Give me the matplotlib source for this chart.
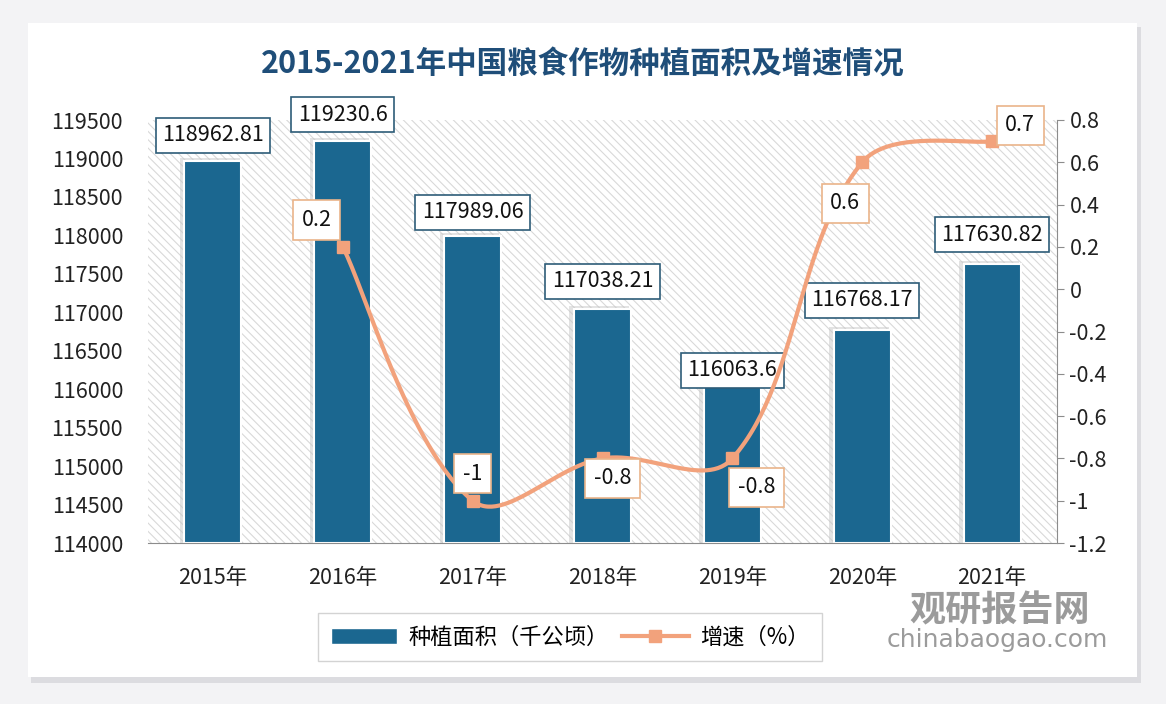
import numpy as np
import matplotlib
matplotlib.use("Agg")
import matplotlib.pyplot as plt
from matplotlib.patches import Rectangle
from matplotlib.lines import Line2D

plt.rcParams['font.family'] = ['Noto Sans CJK SC', 'DejaVu Sans']
plt.rcParams['hatch.color'] = '#d6d6d6'
plt.rcParams['hatch.linewidth'] = 0.8

years = ['2015年', '2016年', '2017年', '2018年', '2019年', '2020年', '2021年']
area = [118962.81, 119230.6, 117989.06, 117038.21, 116063.6, 116768.17, 117630.82]
growth_years_idx = [1, 2, 3, 4, 5, 6]
growth = [0.2, -1, -0.8, -0.8, 0.6, 0.7]
area_labels = ['118962.81', '119230.6', '117989.06', '117038.21', '116063.6', '116768.17', '117630.82']
growth_labels = ['0.2', '-1', '-0.8', '-0.8', '0.6', '0.7']
left_ticks = list(range(114000, 119501, 500))
right_ticks = [0.8, 0.6, 0.4, 0.2, 0, -0.2, -0.4, -0.6, -0.8, -1, -1.2]

BAR = '#1b6790'
LINE = '#f2a27c'
TITLE = '#1f4e79'
FS = 15.5

W, H = 1166, 704
fig = plt.figure(figsize=(W / 100, H / 100), dpi=100)
fig.patch.set_facecolor('#f3f3f5')

# card with shadow (background axes)
bg = fig.add_axes([0, 0, 1, 1], zorder=-5)
bg.set_xlim(0, W); bg.set_ylim(H, 0); bg.axis('off')
bg.add_patch(Rectangle((31, 27), 1110, 656, facecolor='#dcdce0', edgecolor='none'))
bg.add_patch(Rectangle((28, 23), 1109, 654, facecolor='white', edgecolor='none'))

ax = fig.add_axes([148 / W, 1 - 543 / H, (1057 - 148) / W, (543 - 120) / H])
ax.set_facecolor('none')
x = np.arange(len(years))
ax.set_xlim(-0.5, len(years) - 0.5)
ax.set_ylim(114000, 119500)

# hatched plot background
ax.add_patch(Rectangle((0, 0), 1, 1, transform=ax.transAxes, facecolor='white',
                       edgecolor='#d9d9d9', hatch='\\\\\\\\', linewidth=0, zorder=0))

# bar shadows
ax.bar(x - 0.025, np.array(area) - 114000 + 40, bottom=114000, width=0.46, color='#c8c8c8',
       alpha=0.5, zorder=1, edgecolor='none')
ax.bar(x, np.array(area) - 114000, bottom=114000, width=0.44, color=BAR,
       edgecolor='white', linewidth=1.5, zorder=2)

ax.set_yticks(left_ticks)
ax.set_yticklabels([str(t) for t in left_ticks], fontsize=FS, color='#222222')
ax.set_xticks(x)
ax.set_xticklabels(years, fontsize=FS, color='#222222')
ax.tick_params(axis='y', length=0, pad=18)
ax.tick_params(axis='x', length=0, pad=17)
for s in ['top', 'right', 'left']:
    ax.spines[s].set_visible(False)
ax.spines['bottom'].set_color('#8c8c8c')
ax.spines['bottom'].set_zorder(3)

# bar labels
bar_offsets = [26, 26, 24, 28, 14, 30, 29]
for i, (v, lab) in enumerate(zip(area, area_labels)):
    ax.annotate(lab, (i, v), xytext=(0, bar_offsets[i]), textcoords='offset pixels',
                ha='center', va='center', fontsize=FS, color='#111111', zorder=6,
                bbox=dict(boxstyle='square,pad=0.3', facecolor='white', edgecolor='#2d5c78', linewidth=1.2))

# growth line on right axis
ax2 = ax.twinx()
ax2.set_ylim(-1.2, 0.8)
ax2.set_yticks(right_ticks)
ax2.set_yticklabels([('%g' % t) for t in right_ticks], fontsize=FS, color='#222222')
ax2.tick_params(axis='y', length=5, color='#8c8c8c', pad=4)
for s in ['top', 'left', 'bottom']:
    ax2.spines[s].set_visible(False)
ax2.spines['right'].set_color('#8c8c8c')

# smooth curve: chord-length-weighted Bezier through the data points (screen scale)
sx = (1057 - 148) / len(years)      # px per category
sy = (543 - 120) / 2.0              # px per unit of growth
px = np.array(growth_years_idx, dtype=float)
py = np.array(growth, dtype=float)
Q = np.column_stack([px * sx, py * sy])
n = len(Q)
d = np.linalg.norm(np.diff(Q, axis=0), axis=1)
sm = 0.36
cin = [None] * n
cout = [None] * n
for i in range(n):
    if i == 0:
        cout[i] = Q[0] + (Q[1] - Q[0]) * sm * 0.5
    elif i == n - 1:
        cin[i] = Q[-1] - (Q[-1] - Q[-2]) * sm * 0.5
    else:
        T = Q[i + 1] - Q[i - 1]
        tot = d[i - 1] + d[i]
        cin[i] = Q[i] - T * sm * d[i - 1] / tot
        cout[i] = Q[i] + T * sm * d[i] / tot
cx, cy = [], []
t = np.linspace(0, 1, 60)[:, None]
for i in range(n - 1):
    b = ((1 - t) ** 3 * Q[i] + 3 * (1 - t) ** 2 * t * cout[i]
         + 3 * (1 - t) * t ** 2 * cin[i + 1] + t ** 3 * Q[i + 1])
    cx.extend(b[:, 0] / sx); cy.extend(b[:, 1] / sy)
ax2.plot(cx, cy, color=LINE, linewidth=3, zorder=4, solid_capstyle='round')
ax2.plot(px, py, linestyle='none', marker='s', markersize=9, color=LINE, zorder=5)

g_offsets = [(-26, 27), (0, 27), (10, -20), (24, -29), (-17, -41), (28, 16)]
for i, (xi, v, lab) in enumerate(zip(growth_years_idx, growth, growth_labels)):
    ax2.annotate(lab, (xi, v), xytext=g_offsets[i], textcoords='offset pixels',
                 ha='center', va='center', fontsize=FS, color='#111111', zorder=7,
                 bbox=dict(boxstyle='square,pad=0.4', facecolor='white', edgecolor='#eab48a', linewidth=1.2))

# title
fig.text(583 / W, 1 - 65 / H, '2015-2021年中国粮食作物种植面积及增速情况', ha='center', va='center',
         fontsize=22, fontweight='bold', color=TITLE)

# legend
handles = [Rectangle((0, 0), 1, 1, facecolor=BAR, edgecolor='white'),
           Line2D([0], [0], color=LINE, linewidth=3, marker='s', markersize=9)]
leg = fig.legend(handles, ['种植面积（千公顷）', '增速（%）'], loc='center',
                 bbox_to_anchor=(570 / W, 1 - 637 / H), ncol=2, frameon=True, fontsize=16,
                 handlelength=3.0, columnspacing=0.6, handletextpad=0.5, fancybox=False,
                 borderpad=0.55)
leg.get_frame().set_edgecolor('#c8c8c8')
leg.get_frame().set_linewidth(1)

# watermark
fig.text(1000 / W, 1 - 611 / H, '观研报告网', ha='center', va='center', fontsize=26,
         fontweight='bold', color='#8a8a8a', alpha=0.85)
fig.text(997 / W, 1 - 640 / H, 'chinabaogao.com', ha='center', va='center', fontsize=18,
         color='#8a8a8a', alpha=0.85, family=['DejaVu Sans'])

fig.savefig('out.png', dpi=100, facecolor=fig.get_facecolor())
